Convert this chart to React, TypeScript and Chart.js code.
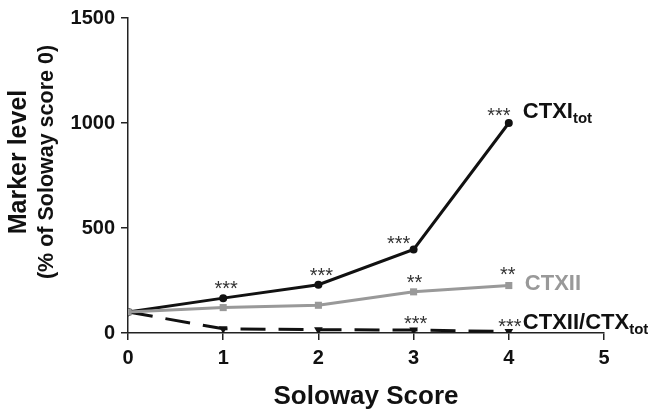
import React, { useEffect, useRef } from "react";
import { Chart, registerables } from "chart.js";

Chart.register(...registerables);

const scores = [0, 1, 2, 3, 4];
const ctxiTot = [100, 166, 230, 398, 1000];
const ctxii = [100, 121, 132, 196, 226];
const ratio = [100, 20, 16, 14, 7];
const yTicks = [0, 500, 1000, 1500];
const xTicks = [0, 1, 2, 3, 4, 5];

const starsCtxi = ["", "***", "***", "***", "***"];
const starsCtxii = ["", "", "", "**", "**"];
const starsRatio = ["", "", "", "***", "***"];

const FONT = "'Liberation Sans', Arial, sans-serif";

type StarStyle = { dx: number; dy: number };
const starOffsetsCtxi: StarStyle[] = [
  { dx: 0, dy: 0 },
  { dx: 3, dy: -14 },
  { dx: 3, dy: -13 },
  { dx: -15, dy: -10 },
  { dx: -10, dy: -12 },
];
const starOffsetsCtxii: StarStyle[] = [
  { dx: 0, dy: 0 },
  { dx: 0, dy: 0 },
  { dx: 0, dy: 0 },
  { dx: 1, dy: -13 },
  { dx: -1, dy: -15 },
];
const starOffsetsRatio: StarStyle[] = [
  { dx: 0, dy: 0 },
  { dx: 0, dy: 0 },
  { dx: 0, dy: 0 },
  { dx: 2, dy: -11 },
  { dx: 1, dy: -9 },
];

const annotationPlugin = {
  id: "annotations",
  afterDraw(chart: any) {
    const ctx = chart.ctx;
    const xs = chart.scales.x;
    const ys = chart.scales.y;
    const area = chart.chartArea;
    ctx.save();

    // stars
    const drawStars = (vals: number[], stars: string[], offs: StarStyle[]) => {
      ctx.font = `20px ${FONT}`;
      ctx.fillStyle = "#333";
      ctx.textAlign = "center";
      ctx.textBaseline = "middle";
      stars.forEach((s, i) => {
        if (!s) return;
        const px = xs.getPixelForValue(scores[i]) + offs[i].dx;
        const py = ys.getPixelForValue(vals[i]) + offs[i].dy;
        ctx.fillText(s, px, py + 5);
      });
    };
    drawStars(ctxiTot, starsCtxi, starOffsetsCtxi);
    drawStars(ctxii, starsCtxii, starOffsetsCtxii);
    drawStars(ratio, starsRatio, starOffsetsRatio);

    // series labels
    const last = scores.length - 1;
    const lx = xs.getPixelForValue(scores[last]);
    const drawLabel = (main: string, sub: string, val: number, dx: number, dy: number, color: string) => {
      const py = ys.getPixelForValue(val) + dy;
      ctx.textAlign = "left";
      ctx.textBaseline = "alphabetic";
      ctx.fillStyle = color;
      ctx.font = `bold 22px ${FONT}`;
      ctx.fillText(main, lx + dx, py);
      if (sub) {
        const w = ctx.measureText(main).width;
        ctx.font = `bold 15px ${FONT}`;
        ctx.fillText(sub, lx + dx + w, py + 5);
      }
    };
    drawLabel("CTXI", "tot", ctxiTot[last], 14, -5, "#111");
    drawLabel("CTXII", "", ctxii[last], 16, 4, "#999");
    drawLabel("CTXII/CTX", "tot", ratio[last], 14, -3, "#111");

    // axis titles
    ctx.fillStyle = "#111";
    ctx.textAlign = "center";
    ctx.textBaseline = "middle";
    ctx.font = `bold 26px ${FONT}`;
    ctx.fillText("Soloway Score", (area.left + area.right) / 2, 397);

    ctx.save();
    ctx.translate(19, 162);
    ctx.rotate(-Math.PI / 2);
    ctx.font = `bold 25px ${FONT}`;
    ctx.fillText("Marker level", 0, 0);
    ctx.restore();

    ctx.save();
    ctx.translate(47, 162);
    ctx.rotate(-Math.PI / 2);
    ctx.font = `bold 21.5px ${FONT}`;
    ctx.fillText("(% of Soloway score 0)", 0, 0);
    ctx.restore();

    ctx.restore();
  },
};

export default function App() {
  const ref = useRef<HTMLCanvasElement>(null);

  useEffect(() => {
    document.body.style.margin = "0";
    if (!ref.current) return;
    const toPts = (vals: number[]) => vals.map((v, i) => ({ x: scores[i], y: v }));
    const chart = new Chart(ref.current, {
      type: "scatter",
      data: {
        datasets: [
          {
            label: "CTXII",
            data: toPts(ctxii),
            showLine: true,
            borderColor: "#999",
            backgroundColor: "#999",
            borderWidth: 3,
            pointStyle: "rect",
            pointRadius: 5,
            pointBorderWidth: 0,
          },
          {
            label: "CTXI tot",
            data: toPts(ctxiTot),
            showLine: true,
            borderColor: "#111",
            backgroundColor: "#111",
            borderWidth: 3,
            pointStyle: "circle",
            pointRadius: 4,
            pointBorderWidth: 0,
          },
          {
            label: "CTXII/CTX tot",
            data: toPts(ratio),
            showLine: true,
            borderColor: "#111",
            backgroundColor: "#111",
            borderWidth: 3,
            borderDash: [25, 13],
            pointStyle: "triangle",
            rotation: 180,
            pointRadius: 5,
            pointBorderWidth: 0,
          },
        ],
      },
      options: {
        animation: false,
        responsive: false,
        layout: { padding: { left: 0, top: 17, right: 44, bottom: 0 } },
        plugins: { legend: { display: false }, tooltip: { enabled: false } },
        scales: {
          x: {
            type: "linear",
            min: 0,
            max: 5,
            afterFit: (s: any) => {
              s.height = 80;
            },
            afterBuildTicks: (s: any) => {
              s.ticks = xTicks.map((v) => ({ value: v }));
            },
            ticks: {
              color: "#111",
              font: { family: FONT, size: 20, weight: "bold" },
              padding: 6,
              callback: (v: any) => String(v),
            },
            grid: { display: true, drawOnChartArea: false, drawTicks: true, tickLength: 7, color: "#222", lineWidth: 1.5 },
            border: { display: true, color: "#222", width: 1.5 },
          },
          y: {
            type: "linear",
            min: 0,
            max: 1500,
            afterFit: (s: any) => {
              s.width = 128;
            },
            afterBuildTicks: (s: any) => {
              s.ticks = yTicks.map((v) => ({ value: v }));
            },
            ticks: {
              color: "#111",
              font: { family: FONT, size: 20, weight: "bold" },
              padding: 6,
              callback: (v: any) => String(v),
            },
            grid: { display: true, drawOnChartArea: false, drawTicks: true, tickLength: 7, color: "#222", lineWidth: 1.5 },
            border: { display: true, color: "#222", width: 1.5 },
          },
        },
      },
      plugins: [annotationPlugin],
    });
    return () => chart.destroy();
  }, []);

  return (
    <div style={{ position: "absolute", left: 0, top: 0, width: 648, height: 413, background: "#fff" }}>
      <canvas ref={ref} width={648} height={413} style={{ width: 648, height: 413 }} />
    </div>
  );
}
